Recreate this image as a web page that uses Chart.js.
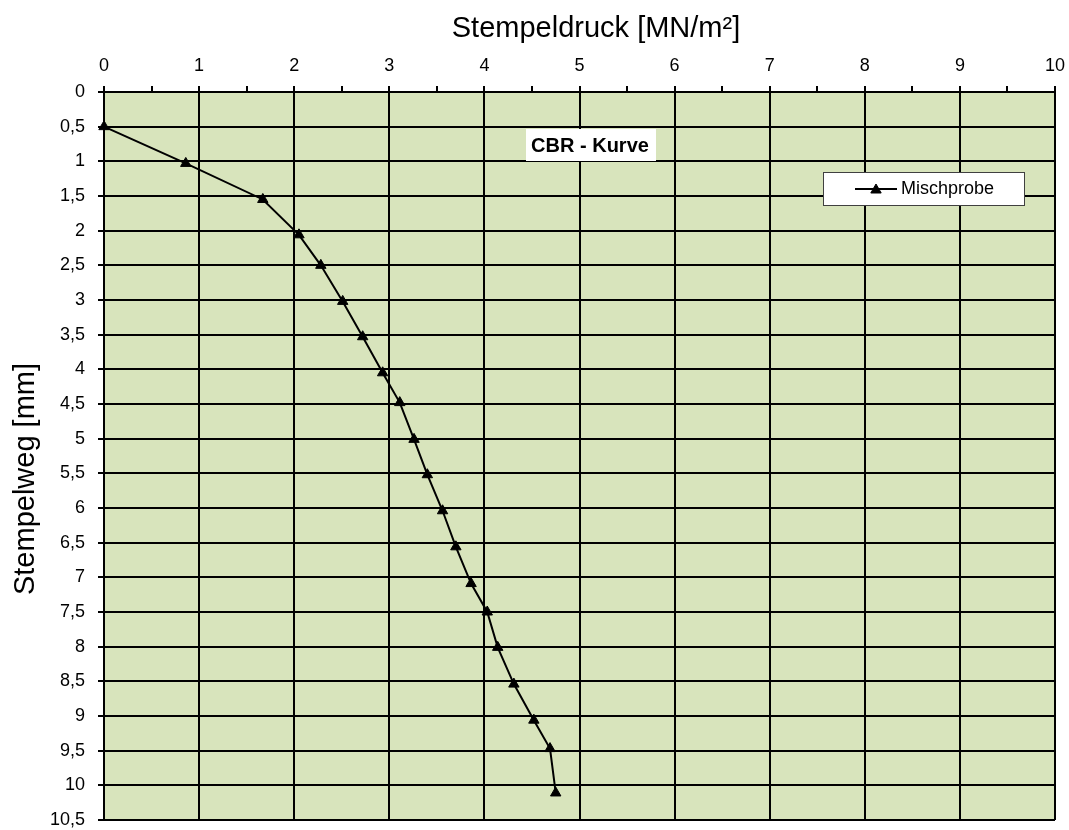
<!DOCTYPE html>
<html lang="de">
<head>
<meta charset="utf-8">
<title>CBR - Kurve</title>
<script src="https://cdn.jsdelivr.net/npm/chart.js@4.4.1/dist/chart.umd.min.js"></script>
<style>
    html, body {
        margin: 0;
        padding: 0;
        background: #fff;
    }
    #chart {
        display: block;
    }
</style>
</head>
<body>
<canvas id="chart" width="1069" height="830"></canvas>

<script>
var stempeldruck = [0, 0.86, 1.67, 2.05, 2.28, 2.51, 2.72, 2.93, 3.11, 3.26, 3.40, 3.56, 3.70, 3.86, 4.03, 4.14, 4.31, 4.52, 4.69, 4.75]; // MN/m²
var stempelweg = [0.5, 1.03, 1.55, 2.06, 2.50, 3.02, 3.53, 4.05, 4.48, 5.01, 5.52, 6.04, 6.56, 7.09, 7.50, 8.01, 8.54, 9.06, 9.47, 10.11]; // mm

var seriesName = 'Mischprobe';
var chartTitle = 'CBR - Kurve';
var xTitle = 'Stempeldruck [MN/m²]';
var yTitle = 'Stempelweg [mm]';

// axis ranges / steps
var xRange = [0, 10];
var yRange = [0, 10.5];
var tickStep = 0.5;

var FONT = "'Liberation Sans', Arial, sans-serif";
Chart.defaults.font.family = FONT;
Chart.defaults.color = '#000';

var points = stempeldruck.map(function (x, i) {
    return { x: x, y: stempelweg[i] };
});

// green plot background
var plotArea = {
    id: 'plotArea',
    beforeDraw: function (chart) {
        var a = chart.chartArea;
        var ctx = chart.ctx;
        ctx.save();
        ctx.fillStyle = '#d8e4bc';
        ctx.fillRect(a.left, a.top, a.right - a.left, a.bottom - a.top);
        ctx.restore();
    }
};

// axis titles, chart title box and legend box (drawn like the Excel original)
var overlay = {
    id: 'overlay',
    afterDraw: function (chart) {
        var ctx = chart.ctx;
        ctx.save();
        ctx.fillStyle = '#000';

        ctx.font = '29px ' + FONT;
        ctx.textAlign = 'center';
        ctx.textBaseline = 'alphabetic';
        ctx.fillText(xTitle, 596, 37);

        ctx.save();
        ctx.translate(34, 479);
        ctx.rotate(-Math.PI / 2);
        ctx.fillText(yTitle, 0, 0);
        ctx.restore();

        // title
        ctx.fillStyle = '#fff';
        ctx.fillRect(526, 129, 130, 32);
        ctx.fillStyle = '#000';
        ctx.font = 'bold 20px ' + FONT;
        ctx.textBaseline = 'middle';
        ctx.fillText(chartTitle, 590, 146);

        // legend
        ctx.fillStyle = '#fff';
        ctx.fillRect(823, 172, 202, 34);
        ctx.strokeStyle = '#404040';
        ctx.lineWidth = 1;
        ctx.strokeRect(823.5, 172.5, 201, 33);

        ctx.strokeStyle = '#000';
        ctx.lineWidth = 2;
        ctx.beginPath();
        ctx.moveTo(855, 189);
        ctx.lineTo(897, 189);
        ctx.stroke();
        ctx.fillStyle = '#000';
        ctx.lineWidth = 1;
        Chart.helpers.drawPoint(ctx, { pointStyle: 'triangle', radius: 6, borderWidth: 1 }, 876, 190);

        ctx.font = '18px ' + FONT;
        ctx.textAlign = 'left';
        ctx.fillText(seriesName, 901, 189);
        ctx.restore();
    }
};

function comma(v) {
    return String(v).replace('.', ',');
}

new Chart(document.getElementById('chart'), {
    type: 'scatter',
    data: {
        datasets: [{
            label: seriesName,
            data: points,
            showLine: true,
            borderColor: '#000',
            backgroundColor: '#000',
            borderWidth: 2,
            pointStyle: 'triangle',
            pointRadius: 6,
            pointHoverRadius: 6,
            pointBorderWidth: 1,
            clip: false
        }]
    },
    options: {
        responsive: false,
        animation: false,
        layout: {
            padding: { left: 0, top: 0, right: 14, bottom: 10 }
        },
        plugins: {
            legend: { display: false },
            tooltip: { enabled: false }
        },
        scales: {
            x: {
                type: 'linear',
                position: 'top',
                min: xRange[0],
                max: xRange[1],
                afterFit: function (scale) {
                    scale.height = 92;
                    scale.paddingLeft = 0;
                    scale.paddingRight = 0;
                },
                ticks: {
                    stepSize: tickStep,
                    padding: 9,
                    maxRotation: 0,
                    autoSkip: false,
                    font: { size: 18 },
                    callback: function (v) {
                        return Number.isInteger(v) ? String(v) : '';
                    }
                },
                grid: {
                    color: function (c) {
                        return c.tick && Number.isInteger(c.tick.value) ? '#000' : 'rgba(0,0,0,0)';
                    },
                    tickColor: '#000',
                    lineWidth: 2,
                    tickLength: 6
                },
                border: { color: '#000', width: 2 }
            },
            y: {
                type: 'linear',
                reverse: true,
                min: yRange[0],
                max: yRange[1],
                afterFit: function (scale) {
                    scale.width = 104;
                    scale.paddingTop = 0;
                    scale.paddingBottom = 0;
                },
                ticks: {
                    stepSize: tickStep,
                    padding: 13,
                    autoSkip: false,
                    font: { size: 18 },
                    callback: function (v) { return comma(v); }
                },
                grid: {
                    color: '#000',
                    tickColor: '#000',
                    lineWidth: 2,
                    tickLength: 6
                },
                border: { color: '#000', width: 2 }
            }
        }
    },
    plugins: [plotArea, overlay]
});
</script>

</body>
</html>
